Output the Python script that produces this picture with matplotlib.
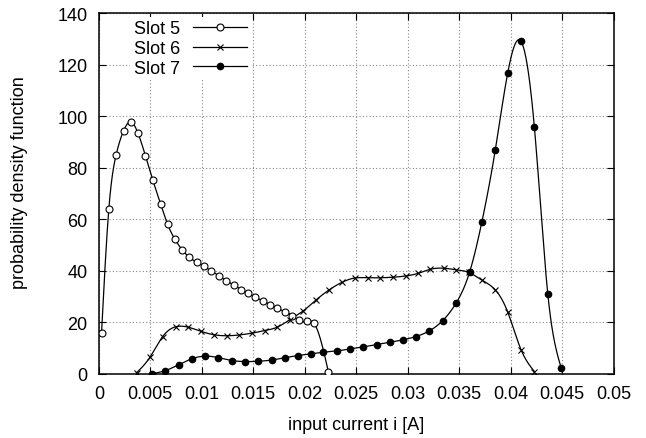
import numpy as np
import matplotlib
matplotlib.use("Agg")
import matplotlib.pyplot as plt
from matplotlib.lines import Line2D

plt.rcParams['font.family'] = ['Liberation Sans', 'DejaVu Sans']

# ---- data ----
slot5_x = [0.00026, 0.00097, 0.00168, 0.0024, 0.0031, 0.0038, 0.00453, 0.00524, 0.0060,
           0.00667, 0.00738, 0.0081, 0.0088, 0.0095, 0.0102, 0.0109, 0.01165, 0.01236,
           0.0131, 0.0138, 0.0145, 0.0152, 0.0159, 0.0166, 0.0173, 0.0181, 0.0188,
           0.0194, 0.0202, 0.0209, 0.0223]
slot5_y = [15.8, 64.0, 85.0, 94.3, 97.8, 93.4, 84.6, 75.2, 65.9, 58.1, 52.3, 48.1, 45.2,
           43.3, 41.7, 40.0, 38.1, 36.2, 34.5, 32.7, 31.3, 29.7, 28.4, 26.9, 25.5, 24.1,
           22.6, 20.8, 20.4, 19.6, 0.7]

slot6_x = [0.00366, 0.00495, 0.0062, 0.00748, 0.0087, 0.00993, 0.01117, 0.0124, 0.01362,
           0.01485, 0.0161, 0.0173, 0.01854, 0.0198, 0.0211, 0.0224, 0.0236, 0.02485,
           0.0261, 0.0273, 0.02854, 0.0298, 0.0310, 0.0322, 0.0335, 0.0347, 0.0359,
           0.0372, 0.0385, 0.0397, 0.0410, 0.0423]
slot6_y = [0.4, 6.4, 14.5, 18.3, 18.1, 16.5, 15.2, 14.8, 15.1, 15.8, 16.8, 18.1, 21.0,
           24.3, 28.7, 32.7, 35.5, 37.2, 37.3, 37.3, 37.5, 38.0, 39.0, 40.6, 41.0, 40.4,
           39.4, 36.4, 32.6, 24.1, 9.4, 0.9]

slot7_x = [0.0052, 0.00647, 0.00777, 0.0090, 0.0103, 0.0116, 0.0129, 0.0142, 0.0155,
           0.0168, 0.0181, 0.0193, 0.0206, 0.0218, 0.0231, 0.0244, 0.0257, 0.0270,
           0.0283, 0.0295, 0.0308, 0.0321, 0.0334, 0.0347, 0.0360, 0.0372, 0.0385,
           0.0397, 0.0410, 0.0423, 0.0436, 0.0449]
slot7_y = [0.1, 1.3, 3.6, 5.8, 6.9, 6.3, 5.2, 4.8, 4.9, 5.4, 6.3, 7.1, 7.8, 8.4, 8.9,
           9.7, 10.5, 11.4, 12.3, 13.2, 14.5, 16.7, 20.7, 27.5, 39.4, 59.0, 86.9, 116.6,
           129.0, 95.6, 31.0, 2.3]

labels = ["Slot 5", "Slot 6", "Slot 7"]
xticks = [0, 0.005, 0.01, 0.015, 0.02, 0.025, 0.03, 0.035, 0.04, 0.045, 0.05]
xticklabels = ["0", "0.005", "0.01", "0.015", "0.02", "0.025", "0.03", "0.035", "0.04", "0.045", "0.05"]
yticks = [0, 20, 40, 60, 80, 100, 120, 140]


def natural_spline(x, y, n=30):
    """Smooth drawing curve through the data points (natural cubic spline)."""
    x = np.asarray(x, float); y = np.asarray(y, float)
    m = len(x)
    h = np.diff(x)
    A = np.zeros((m, m)); b = np.zeros(m)
    A[0, 0] = 1; A[-1, -1] = 1
    for i in range(1, m - 1):
        A[i, i - 1] = h[i - 1]
        A[i, i] = 2 * (h[i - 1] + h[i])
        A[i, i + 1] = h[i]
        b[i] = 3 * ((y[i + 1] - y[i]) / h[i] - (y[i] - y[i - 1]) / h[i - 1])
    c = np.linalg.solve(A, b)
    xs, ys = [], []
    for i in range(m - 1):
        bb = (y[i + 1] - y[i]) / h[i] - h[i] * (2 * c[i] + c[i + 1]) / 3
        d = (c[i + 1] - c[i]) / (3 * h[i])
        t = np.linspace(0, h[i], n, endpoint=False)
        xs.append(x[i] + t)
        ys.append(y[i] + bb * t + c[i] * t ** 2 + d * t ** 3)
    xs.append([x[-1]]); ys.append([y[-1]])
    return np.concatenate(xs), np.concatenate(ys)


FS = 13
fig = plt.figure(figsize=(6.46, 4.39), dpi=100)
ax = fig.add_axes([0.153, 0.146, 0.797, 0.822])

lw = 0.9
series = [(slot5_x, slot5_y, dict(marker='o', mfc='white', mec='black', ms=5.0, mew=0.8)),
          (slot6_x, slot6_y, dict(marker='x', color='black', ms=4.5, mew=0.8)),
          (slot7_x, slot7_y, dict(marker='o', mfc='black', mec='black', ms=4.5))]
handles = []
for (xs, ys, mk), lab in zip(series, labels):
    sx, sy = natural_spline(xs, ys)
    ax.plot(sx, sy, color='black', lw=lw, zorder=3)
    ax.plot(xs, ys, ls='none', zorder=4, **mk)
    handles.append(Line2D([], [], color='black', lw=lw, **{k: v for k, v in mk.items() if k != 'color'}))

ax.set_xlim(0, 0.05)
ax.set_ylim(0, 140)
ax.set_xticks(xticks)
ax.set_xticklabels(xticklabels)
ax.set_yticks(yticks)
ax.tick_params(direction='in', top=True, right=True, labelsize=FS, length=5, width=0.8, pad=8)
ax.grid(True, color='#888888', ls=(0, (1, 2)), lw=0.8)
for s in ax.spines.values():
    s.set_linewidth(1.1)
ax.set_xlabel("input current i [A]", fontsize=FS, labelpad=10)
ax.set_ylabel("probability density function", fontsize=FS)
ax.yaxis.set_label_coords(-0.138, 0.532)

leg = ax.legend(handles, labels, loc='upper left', bbox_to_anchor=(0.061, 0.99), frameon=True,
                markerfirst=False, handlelength=3.0, labelspacing=0.15, fontsize=FS,
                handletextpad=0.7, borderaxespad=0.0, borderpad=0.2, fancybox=False,
                edgecolor='white', framealpha=1.0)
leg.get_frame().set_linewidth(0)

fig.savefig("out.png", dpi=100)
